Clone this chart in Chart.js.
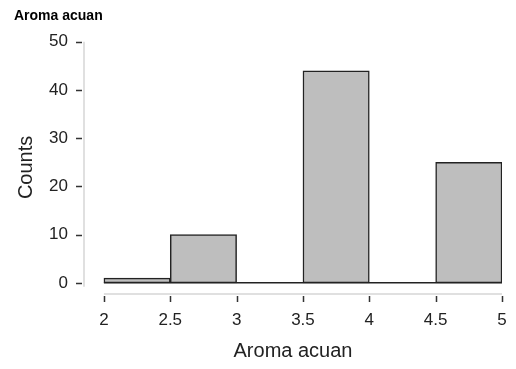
<!DOCTYPE html>
<html>
<head>
<meta charset="utf-8">
<script src="https://cdn.jsdelivr.net/npm/chart.js@4/dist/chart.umd.min.js"></script>
<style>
  html, body { margin: 0; padding: 0; background: #fff; }
  #wrap { width: 516px; height: 369px; }
</style>
</head>
<body>
<div id="wrap"><canvas id="hist"></canvas></div>
<script>
// histogram bins (left edges), bin width and counts
const binStarts = [2, 2.5, 3, 3.5, 4, 4.5];
const binWidth = 0.5;
const counts = [1, 10, 0, 44, 0, 25];
const xTicks = [2, 2.5, 3, 3.5, 4, 4.5, 5];
const yTicks = [0, 10, 20, 30, 40, 50];

const FONT = "'Liberation Sans', Arial, sans-serif";

const bars = binStarts.map((s, i) => ({ x: s + binWidth / 2, y: counts[i] }));
const lastEdge = binStarts[binStarts.length - 1] + binWidth;
const baseline = [{ x: binStarts[0], y: 0 }, { x: lastEdge, y: 0 }];

// light grey axis lines + dark tick marks, offset like R's base graphics
const axesPlugin = {
  id: "axesPlugin",
  afterDraw(chart) {
    const { ctx, chartArea, scales } = chart;
    const x = scales.x, y = scales.y;
    ctx.save();
    ctx.lineWidth = 1.5;
    ctx.strokeStyle = "#d6d6d6";
    ctx.beginPath();
    ctx.moveTo(chartArea.left, y.getPixelForValue(yTicks[yTicks.length - 1]));
    ctx.lineTo(chartArea.left, y.getPixelForValue(yTicks[0]) + 4);
    ctx.moveTo(x.getPixelForValue(xTicks[0]), chartArea.bottom + 1);
    ctx.lineTo(x.getPixelForValue(xTicks[xTicks.length - 1]), chartArea.bottom + 1);
    ctx.stroke();

    ctx.strokeStyle = "#333";
    ctx.beginPath();
    yTicks.forEach(v => {
      const py = Math.round(y.getPixelForValue(v)) + 0.5;
      ctx.moveTo(chartArea.left - 8, py);
      ctx.lineTo(chartArea.left - 2, py);
    });
    xTicks.forEach(v => {
      const px = Math.round(x.getPixelForValue(v)) + 0.5;
      ctx.moveTo(px, chartArea.bottom + 3);
      ctx.lineTo(px, chartArea.bottom + 9);
    });
    ctx.stroke();
    ctx.restore();
  }
};

new Chart(document.getElementById("hist"), {
  data: {
    datasets: [
      {
        type: "bar",
        data: bars,
        backgroundColor: "#bebebe",
        borderColor: "#222",
        borderWidth: 1.5,
        borderSkipped: false,
        barPercentage: 1,
        categoryPercentage: 1,
        order: 2
      },
      {
        type: "line",
        data: baseline,
        borderColor: "#222",
        borderWidth: 1.5,
        pointRadius: 0,
        order: 1
      }
    ]
  },
  options: {
    responsive: true,
    maintainAspectRatio: false,
    animation: false,
    layout: { padding: { left: 14, right: 14, top: 0, bottom: 0 } },
    plugins: {
      legend: { display: false },
      tooltip: { enabled: false },
      title: {
        display: true,
        text: "Aroma acuan",
        align: "start",
        color: "#000",
        font: { family: FONT, size: 14, weight: "bold" },
        padding: { top: 8, bottom: 17 }
      }
    },
    scales: {
      x: {
        type: "linear",
        offset: false,
        min: 1.85,
        max: 5,
        afterBuildTicks(s) { s.ticks = xTicks.map(v => ({ value: v })); },
        afterFit(s) { s.height = 76; },
        grid: { display: false },
        border: { display: false },
        ticks: {
          color: "#222",
          padding: 9,
          maxRotation: 0,
          autoSkip: false,
          font: { family: FONT, size: 17 },
          callback: v => String(v)
        },
        title: {
          display: true,
          text: "Aroma acuan",
          color: "#222",
          font: { family: FONT, size: 20 },
          padding: { top: 0, bottom: 6 }
        }
      },
      y: {
        min: -2.1,
        max: 50,
        afterBuildTicks(s) { s.ticks = yTicks.map(v => ({ value: v })); },
        afterFit(s) { s.width = 70; },
        grid: { display: false },
        border: { display: false },
        ticks: {
          color: "#222",
          padding: 8,
          font: { family: FONT, size: 17 },
          callback: v => String(v)
        },
        title: {
          display: true,
          text: "Counts",
          color: "#222",
          font: { family: FONT, size: 20 },
          padding: { top: 0, bottom: 0 }
        }
      }
    }
  },
  plugins: [axesPlugin]
});
</script>
</body>
</html>
